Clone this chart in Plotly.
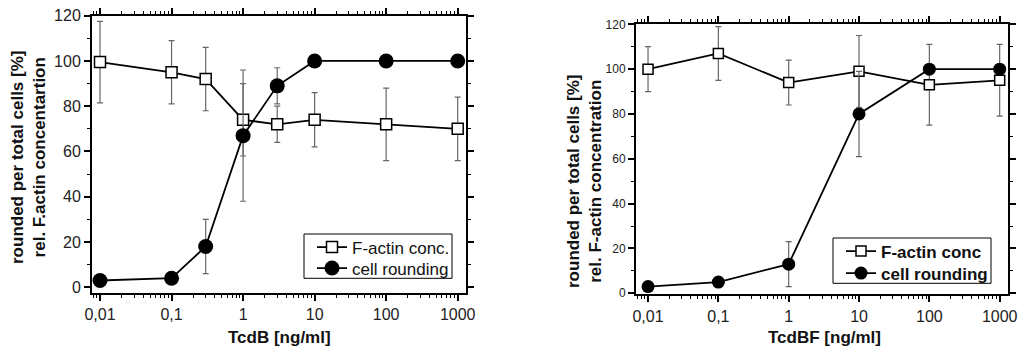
import plotly.graph_objects as go

# ---- data ----
dose_b = [0.01, 0.1, 0.3, 1, 3, 10, 100, 1000]
factin_b = [99.5, 95, 92, 74, 72, 74, 72, 70]
factin_b_err = [18, 14, 14, 16, 8, 12, 16, 14]
round_b = [3, 4, 18, 67, 89, 100, 100, 100]
round_b_err = [0, 2, 12, 29, 8, 0, 0, 0]

dose_bf = [0.01, 0.1, 1, 10, 100, 1000]
factin_bf = [100, 107, 94, 99, 93, 95]
factin_bf_err = [10, 12, 10, 16, 18, 16]
round_bf = [3, 5, 13, 80, 100, 100]
round_bf_err = [0, 0, 10, 19, 0, 0]

xtick_vals = [0.01, 0.1, 1, 10, 100, 1000]
xtick_text = ["0,01", "0,1", "1", "10", "100", "1000"]

FONT = "Liberation Sans, Arial, sans-serif"
W, H = 1024, 355

fig = go.Figure()

def add_pair(xs, fa, fae, rd, rde, xa, ya, leg_a, leg_b, name_a, sq, ci):
    fig.add_trace(go.Scatter(
        x=xs, y=fa, name=name_a,
        mode="lines+markers", xaxis=xa, yaxis=ya, legend=leg_a,
        line=dict(color="black", width=1.8),
        marker=dict(symbol="square", size=sq, color="white",
                    line=dict(color="black", width=1.5)),
        error_y=dict(type="data", array=fae, visible=True, color="#666",
                     thickness=1.2, width=3),
        cliponaxis=False))
    fig.add_trace(go.Scatter(
        x=xs, y=rd, name="cell rounding",
        mode="lines+markers", xaxis=xa, yaxis=ya, legend=leg_b,
        line=dict(color="black", width=1.8),
        marker=dict(symbol="circle", size=ci, color="black"),
        error_y=dict(type="data", array=rde, visible=True, color="#666",
                     thickness=1.2, width=3),
        cliponaxis=False))

add_pair(dose_b, factin_b, factin_b_err, round_b, round_b_err, "x", "y",
         "legend", "legend3", "F-actin conc.", 11, 15)
add_pair(dose_bf, factin_bf, factin_bf_err, round_bf, round_bf_err, "x2", "y2",
         "legend2", "legend4", "F-actin conc", 10, 13)

def px_x(p):
    return p / W

def px_y(p):
    return 1 - p / H

common_x = dict(type="log", tickvals=xtick_vals, ticktext=xtick_text, automargin=False,
                showline=True, linecolor="black", linewidth=2, mirror="ticks",
                ticks="outside", ticklen=6, tickwidth=1.5, tickcolor="black",
                showgrid=False, zeroline=False,
                minor=dict(ticks="outside", ticklen=3, tickwidth=1.2,
                           tickcolor="black", dtick="D1", showgrid=False))
common_y = dict(showline=True, linecolor="black", linewidth=2, mirror="ticks", automargin=False,
                ticks="outside", ticklen=6, tickwidth=1.5, tickcolor="black",
                showgrid=False, zeroline=False, dtick=20, tick0=0,
                minor=dict(ticks="outside", ticklen=3, tickwidth=1.2,
                           tickcolor="black", dtick=10, showgrid=False))

def leg(xp, yp, bold):
    f = dict(family=FONT, size=17, color="#111")
    if bold:
        f["weight"] = "bold"
    return dict(x=px_x(xp), y=px_y(yp), xanchor="left", yanchor="middle",
                bgcolor="rgba(0,0,0,0)", borderwidth=0, font=f,
                tracegroupgap=0, itemwidth=30)

fig.update_layout(
    width=W, height=H, margin=dict(l=0, r=0, t=0, b=0, autoexpand=False),
    paper_bgcolor="white", plot_bgcolor="white",
    font=dict(family=FONT, color="#222"),
    xaxis=dict(common_x, range=[-2.112, 3.116], domain=[px_x(92), px_x(466)],
               anchor="y", tickfont=dict(size=16)),
    yaxis=dict(common_y, range=[-2.4, 120], domain=[px_y(292.7), px_y(15.7)],
               anchor="x", tickfont=dict(size=16)),
    xaxis2=dict(common_x, range=[-2.171, 3.114], domain=[px_x(636), px_x(1007.7)],
                anchor="y2", tickfont=dict(size=16)),
    yaxis2=dict(common_y, range=[-0.5, 120], domain=[px_y(294.4), px_y(24.3)],
                anchor="x2", tickfont=dict(size=12)),
    legend=leg(312, 247.5, False),
    legend3=leg(312, 268.5, False),
    legend2=leg(841, 251.5, True),
    legend4=leg(841, 273.5, True),
    showlegend=True,
)

# legend frames
fig.add_shape(type="rect", xref="paper", yref="paper",
              x0=px_x(304), x1=px_x(452), y0=px_y(278.3), y1=px_y(234),
              line=dict(color="black", width=1), fillcolor="white", layer="above")
fig.add_shape(type="rect", xref="paper", yref="paper",
              x0=px_x(833), x1=px_x(991), y0=px_y(283.3), y1=px_y(238),
              line=dict(color="black", width=1), fillcolor="white", layer="above")

annots = [
    dict(text="<b>rounded per total cells [%]<br>rel. F.actin concentartion</b>",
         x=px_x(28.5), y=px_y(157.5), textangle=-90),
    dict(text="<b>rounded per total cells [%]<br>rel. F-actin concentration</b>",
         x=px_x(584.5), y=px_y(181.5), textangle=-90),
    dict(text="<b>TcdB [ng/ml]</b>", x=px_x(279), y=px_y(337), textangle=0),
    dict(text="<b>TcdBF [ng/ml]</b>", x=px_x(824.5), y=px_y(337), textangle=0),
]
for a in annots:
    fig.add_annotation(xref="paper", yref="paper", showarrow=False,
                       xanchor="center", yanchor="middle",
                       font=dict(family=FONT, size=17, color="#111"), **a)

fig.write_html("out.html", config={"displayModeBar": False},
               post_script="document.body.style.margin='0';document.body.style.overflow='hidden';")
